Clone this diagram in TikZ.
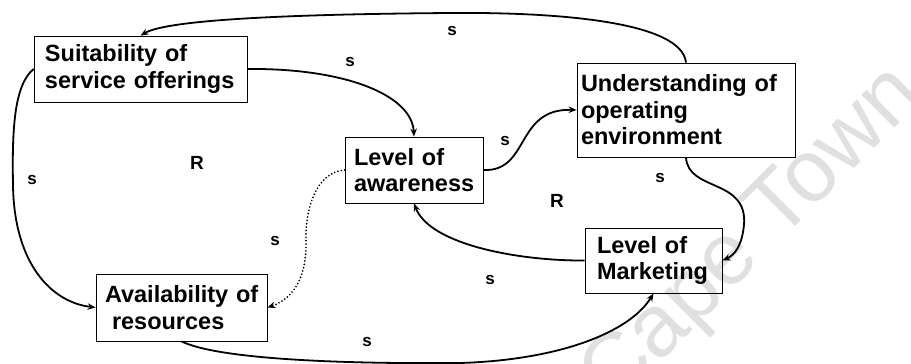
\documentclass[tikz,border=0pt]{standalone}
\usepackage{fontspec}
\setmainfont{Liberation Sans}
\usetikzlibrary{arrows.meta}
\begin{document}
\begin{tikzpicture}[x=1pt,y=-1pt,
  box/.style={draw=black, line width=0.8pt, align=left, inner ysep=0pt,
    font=\fontsize{23.5}{26.5}\selectfont\bfseries},
  link/.style={line width=1.8pt, -{Stealth[length=8pt,width=6.5pt]}},
  dotlink/.style={link, line cap=round, dash pattern=on 0pt off 3.4pt, line width=1.9pt},
  lbl/.style={font=\fontsize{17}{20}\selectfont\bfseries, inner sep=0pt},
  big/.style={font=\fontsize{19}{22}\selectfont\bfseries, inner sep=0pt},
  stamp/.style={text=black!12, font=\fontsize{88}{88}\selectfont, inner sep=0pt}
]
\useasboundingbox (0,0) rectangle (911,364);

% faint stamp lettering behind the diagram
\node[stamp, rotate=45] (stampText) at (754,238) {Cape Town};

% variables
\node[box, minimum width=213pt, minimum height=66pt, inner xsep=11pt, text width=191pt]
  (suit) at (140.5,69) {Suitability~of\\service~offerings};
\node[box, minimum width=138pt, minimum height=66pt, inner xsep=9pt, text width=120pt]
  (aware) at (414,170) {Level~of\\awareness};
\node[box, minimum width=218pt, minimum height=94pt, inner xsep=4pt, text width=210pt]
  (under) at (686,110) {Understanding~of\\operating\\environment};
\node[box, minimum width=171pt, minimum height=67pt, inner xsep=9pt, text width=153pt]
  (avail) at (181.5,307.5) {\mbox{Availability of}\\\hspace*{7pt}resources};
\node[box, minimum width=137pt, minimum height=65pt, inner xsep=12pt, text width=113pt]
  (market) at (653.5,260.5) {Level~of\\Marketing};

% causal links
\draw[link] (under.north) .. controls (682,22) and (560,12) .. (450,13)
  .. controls (320,14) and (170,18) .. (suit.north);
\draw[link] (suit.east) .. controls (345,68) and (412,95) .. (aware.north);
\draw[link] (aware.east) .. controls (530,172) and (515,108) .. (under.west);
\draw[link] (under.south) .. controls (688,192) and (748,178) .. (744,225)
  .. controls (742,245) and (735,255) .. (market.east);
\draw[link] (market.west) .. controls (520,261) and (430,245) .. (aware.south);
\draw[link] (suit.west) .. controls (14,85) and (12,130) .. (13,185)
  .. controls (14,262) and (50,302) .. (avail.west);
\draw[dotlink] (aware.west) .. controls (315,172) and (305,212) .. (306,240)
  .. controls (307,275) and (295,298) .. (avail.east);
\draw[link] (avail.south) .. controls (220,360) and (350,364) .. (460,363)
  .. controls (560,360) and (630,332) .. (market.south);

% polarity labels
\node[lbl] (sTop) at (452,31) {s};
\node[lbl] (sSuitAware) at (350,62) {s};
\node[lbl] (sAwareUnder) at (505,141) {s};
\node[lbl] (sUnderMarket) at (660,178) {s};
\node[lbl] (sMarketAware) at (490,280) {s};
\node[lbl] (sSuitAvail) at (32,180) {s};
\node[lbl] (sAwareAvail) at (275,241) {s};
\node[lbl] (sAvailMarket) at (367,342) {s};
\node[big] (loopLeft) at (197,163) {R};
\node[big] (loopRight) at (557,201) {R};
\end{tikzpicture}
\end{document}
